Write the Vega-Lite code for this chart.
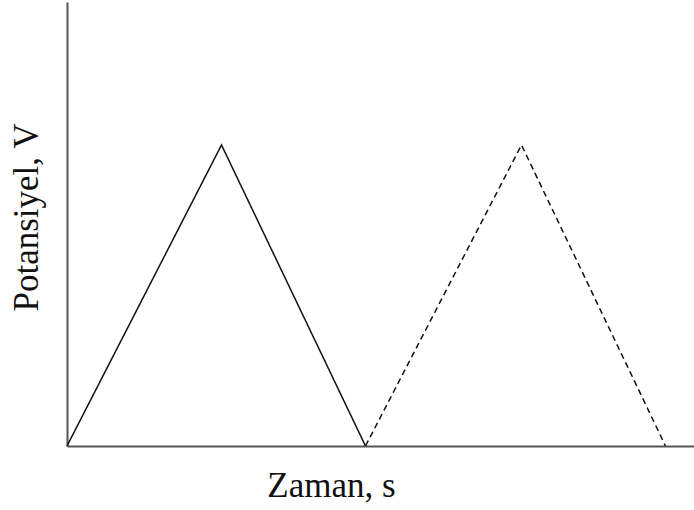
{
  "$schema": "https://vega.github.io/schema/vega-lite/v6.json",
  "width": 627,
  "height": 444,
  "autosize": {"type": "none"},
  "padding": {"left": 67, "top": 2, "right": 0, "bottom": 64},
  "background": "white",
  "config": {"view": {"stroke": null}},
  "data": {
    "values": [
      {"t": 0, "v": 0, "seri": "a"},
      {"t": 1.03, "v": 1, "seri": "a"},
      {"t": 1.99, "v": 0, "seri": "a"},
      {"t": 1.99, "v": 0, "seri": "b"},
      {"t": 3.03, "v": 1, "seri": "b"},
      {"t": 3.99, "v": 0, "seri": "b"}
    ]
  },
  "mark": {"type": "line", "color": "#111", "strokeWidth": 1.5},
  "encoding": {
    "x": {
      "field": "t", "type": "quantitative",
      "scale": {"domain": [0, 4.18], "nice": false, "zero": false},
      "axis": {
        "title": "Zaman, s", "ticks": false, "labels": false, "grid": false,
        "domainColor": "#555", "domainWidth": 2,
        "titleFont": "Liberation Serif", "titleFontSize": 35, "titleFontWeight": "normal",
        "titleColor": "#111", "titleX": 264, "titleY": 50, "titleAlign": "center",
        "titleBaseline": "alphabetic"
      }
    },
    "y": {
      "field": "v", "type": "quantitative",
      "scale": {"domain": [0, 1.475], "nice": false},
      "axis": {
        "title": "Potansiyel, V", "ticks": false, "labels": false, "grid": false,
        "domainColor": "#555", "domainWidth": 2,
        "titleFont": "Liberation Serif", "titleFontSize": 35, "titleFontWeight": "normal",
        "titleColor": "#111", "titleX": -30, "titleY": 215, "titleAngle": -90,
        "titleAlign": "center", "titleBaseline": "alphabetic"
      }
    },
    "detail": {"field": "seri", "type": "nominal"},
    "strokeDash": {
      "field": "seri", "type": "nominal",
      "scale": {"domain": ["a", "b"], "range": [[1, 0], [6, 4]]},
      "legend": null
    }
  }
}
